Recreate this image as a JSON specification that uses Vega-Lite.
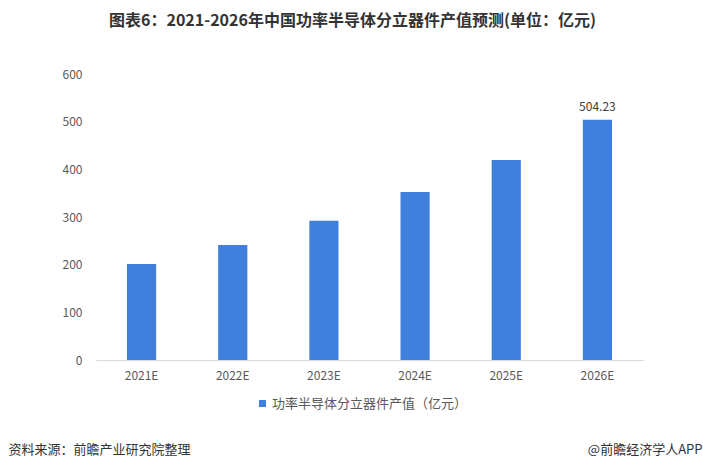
{
  "$schema": "https://vega.github.io/schema/vega-lite/v6.json",
  "width": 547,
  "height": 286,
  "autosize": "none",
  "padding": {"left": 96, "top": 74, "right": 60, "bottom": 111},
  "background": "white",
  "title": {
    "text": "图表6：2021-2026年中国功率半导体分立器件产值预测(单位：亿元)",
    "anchor": "middle",
    "frame": "group",
    "dx": -17,
    "offset": 39,
    "font": "Noto Sans CJK SC",
    "fontSize": 16,
    "fontWeight": "bold",
    "color": "#333333"
  },
  "config": {
    "view": {"stroke": null},
    "font": "Noto Sans CJK SC"
  },
  "data": {
    "values": [
      {"year": "2021E", "value": 201.5, "series": "功率半导体分立器件产值（亿元）"},
      {"year": "2022E", "value": 241.5, "series": "功率半导体分立器件产值（亿元）"},
      {"year": "2023E", "value": 292.0, "series": "功率半导体分立器件产值（亿元）"},
      {"year": "2024E", "value": 352.5, "series": "功率半导体分立器件产值（亿元）"},
      {"year": "2025E", "value": 419.5, "series": "功率半导体分立器件产值（亿元）"},
      {"year": "2026E", "value": 504.23, "series": "功率半导体分立器件产值（亿元）"}
    ]
  },
  "encoding": {
    "x": {
      "field": "year",
      "type": "nominal",
      "sort": null,
      "scale": {"paddingInner": 0.68, "paddingOuter": 0.34},
      "axis": {
        "title": "资料来源：前瞻产业研究院整理",
        "titleFont": "Noto Sans CJK SC",
        "titleFontSize": 13,
        "titleFontWeight": "normal",
        "titleColor": "#333333",
        "titleAnchor": "start",
        "titleAlign": "left",
        "titleBaseline": "middle",
        "titleX": -88,
        "titleY": 89,
        "labelAngle": 0,
        "labelFontSize": 12,
        "labelColor": "#595959",
        "labelPadding": 10,
        "ticks": false,
        "domainColor": "#d9d9d9",
        "grid": false
      }
    }
  },
  "layer": [
    {
      "mark": {"type": "bar", "color": "#3f80dc"},
      "encoding": {
        "y": {
          "field": "value",
          "type": "quantitative",
          "scale": {"domain": [0, 600]},
          "axis": {
            "title": "@前瞻经济学人APP",
            "titleFont": "Noto Sans CJK SC",
            "titleFontSize": 13,
            "titleFontWeight": "normal",
            "titleColor": "#333333",
            "titleAngle": 0,
            "titleAlign": "right",
            "titleBaseline": "middle",
            "titleX": 606,
            "titleY": 375,
            "values": [0, 100, 200, 300, 400, 500, 600],
            "labelFontSize": 12,
            "labelColor": "#595959",
            "labelPadding": 14,
            "ticks": false,
            "domain": false,
            "grid": false
          }
        },
        "color": {
          "field": "series",
          "type": "nominal",
          "scale": {"range": ["#3f80dc"]},
          "legend": {
            "title": null,
            "orient": "none",
            "legendX": 160,
            "legendY": 323,
            "symbolType": "square",
            "symbolSize": 50,
            "labelFontSize": 13,
            "labelLimit": 400,
            "labelColor": "#595959",
            "labelOffset": 3
          }
        }
      }
    },
    {
      "transform": [{"filter": {"field": "year", "equal": "2026E"}}],
      "mark": {"type": "text", "baseline": "bottom", "dy": -6, "fontSize": 12, "color": "#404040"},
      "encoding": {
        "y": {"field": "value", "type": "quantitative"},
        "text": {"field": "value", "type": "quantitative", "format": ".2f"}
      }
    }
  ]
}
